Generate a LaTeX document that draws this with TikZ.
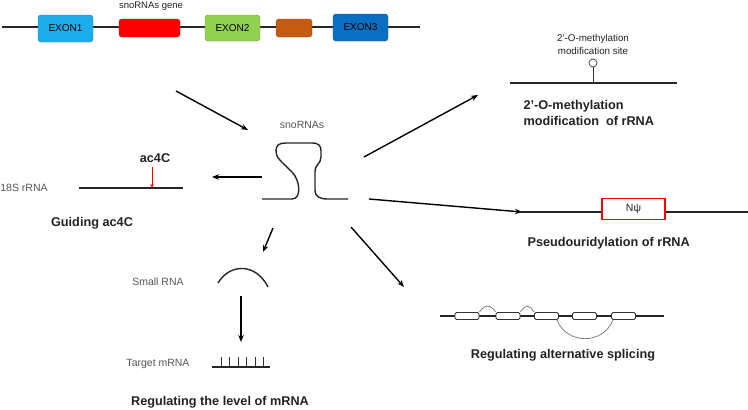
\documentclass[tikz,border=0pt]{standalone}
\usepackage{fontspec}
\setmainfont{Liberation Sans}
\usetikzlibrary{arrows.meta}
\definecolor{exonblue}{HTML}{1DADEB}
\definecolor{exongreen}{HTML}{92D050}
\definecolor{exondark}{HTML}{0A6FC2}
\definecolor{intronorange}{HTML}{C55A11}
\definecolor{labelgray}{HTML}{555555}
\definecolor{textdark}{HTML}{222222}
\tikzset{
  box/.style={draw=#1!75!black, fill=#1, rounded corners=3pt, inner sep=0pt, font=\fontsize{10}{12}\selectfont, text=black},
  link/.style={-{Stealth[length=7pt,width=5.5pt]}, line width=1.4pt, draw=black},
  title/.style={font=\fontsize{12.7}{16}\selectfont\bfseries, text=textdark},
  tag/.style={font=\fontsize{10.5}{12}\selectfont, text=labelgray},
  strand/.style={line width=1.4pt, draw=black!85},
  smallbox/.style={draw=black!80, fill=white, rounded corners=1.5pt, minimum width=24pt, minimum height=7pt, inner sep=0pt, line width=0.8pt}
}
\begin{document}
\begin{tikzpicture}[x=1pt,y=-1pt]
\useasboundingbox (0,0) rectangle (748,410);

\coordinate (g0) at (2,27);
\coordinate (g1) at (420,27);
\draw[strand] (g0) -- (g1);
\node[box=exonblue, minimum width=55pt, minimum height=27pt] (e1) at (65.5,28.5) {EXON1};
\node[box=red, minimum width=61pt, minimum height=18pt] (sg) at (149.5,28) {};
\node[box=exongreen, minimum width=55pt, minimum height=26pt] (e2) at (232.5,28) {EXON2};
\node[box=intronorange, minimum width=36pt, minimum height=18pt] (io) at (294,28) {};
\node[box=exondark, minimum width=55pt, minimum height=27pt] (e3) at (360.5,27.5) {EXON3};
\node[font=\fontsize{9.5}{11}\selectfont, text=textdark] (sgl) at (151,6) {snoRNAs gene};

\coordinate (a1) at (176,91);
\coordinate (a2) at (248,130);
\draw (a1) edge[link] (a2);

\node[tag] (sno) at (302,125) {snoRNAs};
\draw[strand] (262,199) -- (292,199) .. controls (302,199) and (300,180) .. (292,172)
  .. controls (280,160) and (276,158) .. (276,151) .. controls (276,145) and (279,143) .. (286,143)
  -- (312,143) .. controls (319,143) and (321,146) .. (321,151) -- (321,157)
  .. controls (321,164) and (315,164) .. (315,172) -- (315,190)
  .. controls (315,197) and (320,199) .. (328,199) -- (348,199);

\coordinate (l1) at (262,177);
\coordinate (l2) at (212,177);
\draw (l1) edge[link] (l2);
\coordinate (r0) at (79,188);
\coordinate (r1) at (183,188);
\draw[strand] (r0) -- (r1);
\node[tag] (r18) at (24,188) {18S rRNA};
\node[title] (ac) at (155,158) {ac4C};
\coordinate (ac0) at (152,167);
\coordinate (ac1) at (152,188);
\draw[red, line width=0.8pt, -{Stealth[length=4pt,width=3.5pt]}] (ac0) -- (ac1);
\node[title] (gd) at (92,223) {Guiding ac4C};

\coordinate (u1) at (364,157);
\coordinate (u2) at (478,95);
\draw (u1) edge[link] (u2);
\coordinate (m0) at (510,83);
\coordinate (m1) at (677,83);
\draw[strand] (m0) -- (m1);
\node[circle, draw=black!80, fill=white, minimum size=8pt, inner sep=0pt, line width=0.7pt] (site) at (593,63) {};
\coordinate (mb) at (593,83);
\draw[line width=0.7pt, black!80] (site) -- (mb);
\node[font=\fontsize{9.8}{13}\selectfont, align=center, text=textdark] (ms) at (593,44) {2’-O-methylation\\modification site};
\node[title, align=left, anchor=west] (mt) at (520,113) {2’-O-methylation\\modification\ \ of rRNA};

\coordinate (q1) at (369,199);
\coordinate (q2) at (522,212);
\draw (q1) edge[link] (q2);
\coordinate (p0) at (520,212);
\coordinate (p1) at (748,212);
\draw[strand] (p0) -- (p1);
\node[draw=red, fill=white, line width=1.2pt, minimum width=63pt, minimum height=21pt, inner sep=0pt, font=\fontsize{10.5}{12}\selectfont, text=textdark] (npsi) at (633.5,209) {Nψ};
\node[title, anchor=west] (pt) at (524,243) {Pseudouridylation of rRNA};

\coordinate (w1) at (273,228);
\coordinate (w2) at (263,252);
\draw (w1) edge[link] (w2);
\coordinate (s0) at (218,283);
\coordinate (s1) at (268,287);
\draw[strand] (s0) .. controls (230,263) and (256,263) .. (s1);
\node[tag] (srna) at (158,282) {Small RNA};
\coordinate (d0) at (241,296);
\coordinate (d1) at (241,342);
\draw (d0) edge[link] (d1);
\coordinate (t0) at (212,367);
\coordinate (t1) at (270,367);
\draw[strand] (t0) -- (t1);
\foreach \x in {221,229.5,238,246.5,255,263.5}
  \draw[line width=0.7pt, black!80] (\x,357) -- (\x,367);
\node[tag] (tm) at (158,364) {Target mRNA};
\node[title] (rl) at (220,402) {Regulating the level of mRNA};

\coordinate (z1) at (351,227);
\coordinate (z2) at (404,287);
\draw (z1) edge[link] (z2);
\coordinate (sp0) at (440,316);
\coordinate (sp1) at (664,316);
\draw[strand] (sp0) -- (sp1);
\foreach \x [count=\i] in {467,508,546.5,584.5,623.5}
  \node[smallbox] (b\i) at (\x,316) {};
\draw[black!55, line width=0.7pt] (b1.north east) .. controls ([shift={(5,-8)}]b1.north east) and ([shift={(-5,-8)}]b2.north west) .. (b2.north west);
\draw[black!55, line width=0.7pt] (b2.north east) .. controls ([shift={(5,-8)}]b2.north east) and ([shift={(-5,-8)}]b3.north west) .. (b3.north west);
\draw[black!55, line width=0.7pt] ([xshift=-2pt]b3.south east) .. controls ([shift={(8,25)}]b3.south east) and ([shift={(-8,25)}]b5.south west) .. ([xshift=2pt]b5.south west);
\node[title] (rs) at (563,355) {Regulating alternative splicing};
\end{tikzpicture}
\end{document}
